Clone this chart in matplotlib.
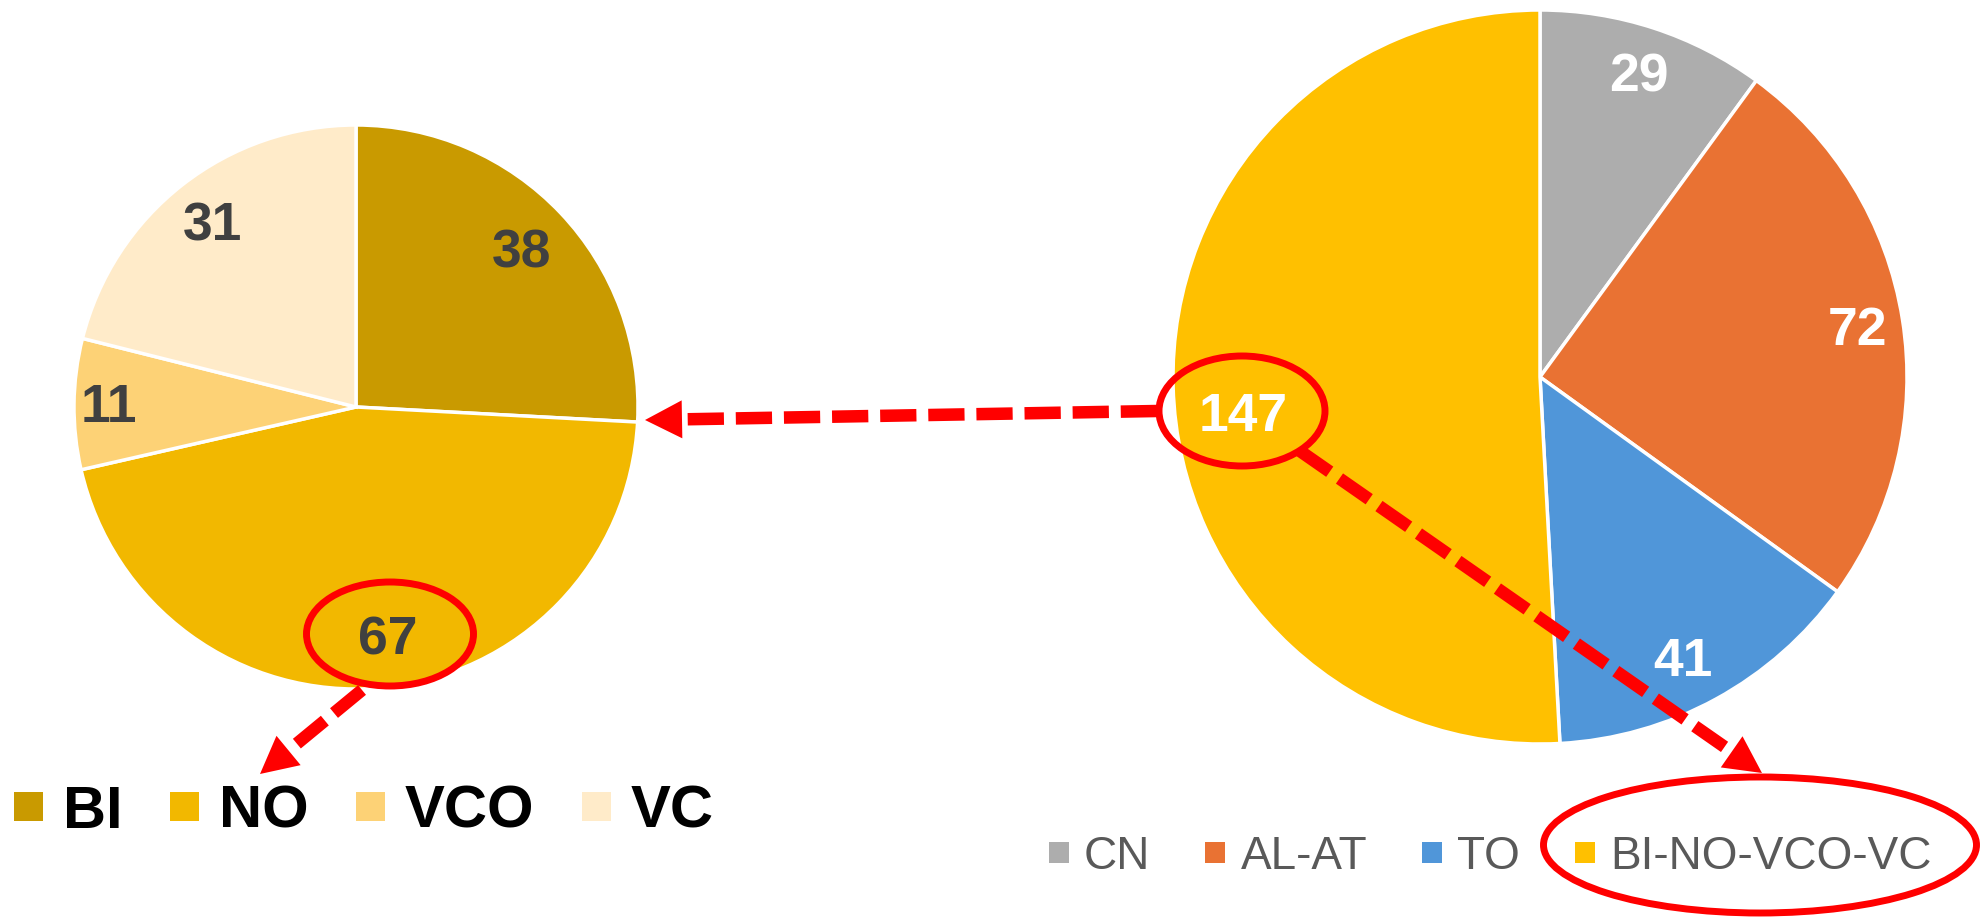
import numpy as np
import matplotlib.pyplot as plt
from matplotlib.patches import Ellipse, Patch, Polygon

W, H = 1983, 919

left_labels = ["BI", "NO", "VCO", "VC"]
left_values = [38, 67, 11, 31]
left_colors = ["#C99A00", "#F2B800", "#FDD276", "#FFEBC9"]

right_labels = ["CN", "AL-AT", "TO", "BI-NO-VCO-VC"]
right_values = [29, 72, 41, 147]
right_colors = ["#ADADAD", "#E97233", "#5096D9", "#FFC000"]

RED = "#FF0000"

plt.rcParams["font.family"] = ["Liberation Sans", "DejaVu Sans"]

fig = plt.figure(figsize=(W / 100, H / 100), dpi=100)
ax = fig.add_axes([0, 0, 1, 1])


def iy(y):
    # image rows (top down) -> axes y (bottom up)
    return H - y


def draw_pie(values, colors, center, radius, text_color, dists, nudges):
    wedges, _ = ax.pie(values, colors=colors, startangle=90, counterclock=False,
                       center=center, radius=radius,
                       wedgeprops=dict(edgecolor="white", linewidth=2.5))
    for w, v, d, da in zip(wedges, values, dists, nudges):
        mid = np.deg2rad((w.theta1 + w.theta2) / 2 + da)
        x = center[0] + d * radius * np.cos(mid)
        y = center[1] + d * radius * np.sin(mid) - 4
        ax.text(x, y, str(v), ha="center", va="center", fontsize=38.5,
                fontweight="bold", color=text_color, zorder=3)
    return wedges


draw_pie(left_values, left_colors, (356, iy(407)), 282, "#404040",
         [0.81, 0.82, 0.875, 0.83], [0, 3, 0, 0])
draw_pie(right_values, right_colors, (1540, iy(377)), 367, "white",
         [0.87, 0.875, 0.86, 0.815], [0, 0, -1.7, 5.4])


def ring(cx, cy, w, h):
    ax.add_patch(Ellipse((cx, iy(cy)), w, h, fill=False, edgecolor=RED,
                         linewidth=5, zorder=4))


ring(390, 634, 167, 104)
ring(1242, 411, 166, 110)
ring(1760, 845, 433, 136)


def dashed_arrow(start, tip, head_len=37, head_w=38):
    sx, sy = start[0], iy(start[1])
    tx, ty = tip[0], iy(tip[1])
    d = np.array([tx - sx, ty - sy], dtype=float)
    d /= np.hypot(*d)
    perp = np.array([-d[1], d[0]])
    base = np.array([tx, ty]) - d * head_len
    ax.plot([sx, base[0]], [sy, base[1]], color=RED, linewidth=9,
            linestyle=(0, (2.9, 0.95)), dash_capstyle="butt", zorder=4)
    ax.add_patch(Polygon([(tx, ty), base + perp * head_w / 2, base - perp * head_w / 2],
                         closed=True, facecolor=RED, edgecolor="none", zorder=4))


dashed_arrow((1157, 411), (645, 420))
dashed_arrow((362, 690), (260, 774))
dashed_arrow((1300, 451), (1762, 773))

left_handles = [Patch(facecolor=c, edgecolor="none") for c in left_colors]
leg1 = ax.legend(left_handles, left_labels, loc="center left",
                 bbox_to_anchor=(14, iy(812)), bbox_transform=ax.transData,
                 ncol=4, frameon=False,
                 prop=dict(family="Liberation Sans", weight="bold", size=43),
                 handlelength=0.486, handleheight=0.37, handletextpad=0.33,
                 columnspacing=0.8, borderpad=0, borderaxespad=0)
ax.add_artist(leg1)

right_handles = [Patch(facecolor=c, edgecolor="none") for c in right_colors]
ax.legend(right_handles, right_labels, loc="center left",
          bbox_to_anchor=(1049, iy(857)), bbox_transform=ax.transData,
          ncol=4, frameon=False, labelcolor="#595959",
          prop=dict(family="Liberation Sans", size=33),
          handlelength=0.436, handleheight=0.3, handletextpad=0.33,
          columnspacing=1.2, borderpad=0, borderaxespad=0)

ax.set_xlim(0, W)
ax.set_ylim(0, H)
ax.set_aspect("equal")
ax.axis("off")

fig.savefig("out.png", dpi=100)
